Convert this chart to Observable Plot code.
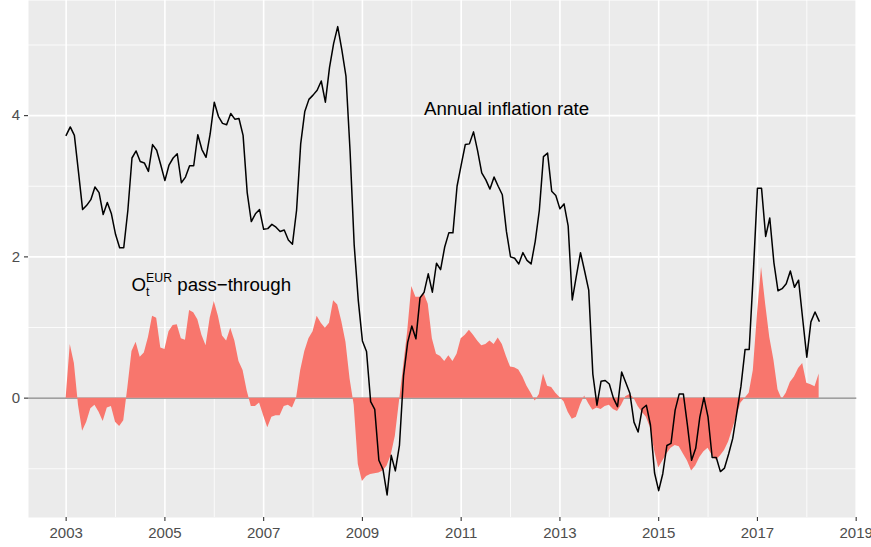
<!DOCTYPE html>
<html><head><meta charset="utf-8">
<script src="https://cdn.jsdelivr.net/npm/d3@7"></script>
<script src="https://cdn.jsdelivr.net/npm/@observablehq/plot@0.6"></script>
<style>html,body{margin:0;padding:0;background:#fff;} svg{display:block}</style>
</head><body><div id="chart"></div>
<script>
// Monthly series, January 2003 to April 2018
const startYear = 2003;
const inflation = [
  3.72, 3.84, 3.72, 3.20, 2.67, 2.73, 2.81, 2.99, 2.91, 2.60, 2.77, 2.61,
  2.32, 2.13, 2.13, 2.66, 3.40, 3.50, 3.35, 3.33, 3.21, 3.59, 3.51, 3.30,
  3.08, 3.30, 3.40, 3.46, 3.05, 3.13, 3.29, 3.29, 3.73, 3.52, 3.41, 3.74,
  4.19, 3.99, 3.89, 3.87, 4.03, 3.95, 3.96, 3.72, 2.91, 2.50, 2.61, 2.67,
  2.39, 2.40, 2.46, 2.42, 2.36, 2.38, 2.24, 2.18, 2.66, 3.60, 4.06, 4.23,
  4.29, 4.36, 4.49, 4.19, 4.68, 5.02, 5.26, 4.93, 4.56, 3.50, 2.17, 1.38,
  0.81, 0.66, -0.05, -0.16, -0.88, -1.01, -1.37, -0.81, -1.03, -0.67, 0.32, 0.79,
  1.02, 0.84, 1.42, 1.50, 1.76, 1.50, 1.91, 1.82, 2.14, 2.34, 2.34, 3.00,
  3.30, 3.59, 3.60, 3.77, 3.50, 3.19, 3.09, 2.96, 3.13, 3.00, 2.88, 2.36,
  2.00, 1.98, 1.90, 2.06, 1.95, 1.90, 2.22, 2.66, 3.42, 3.47, 2.93, 2.87,
  2.68, 2.75, 2.44, 1.39, 1.73, 2.06, 1.80, 1.53, 0.34, -0.10, 0.24, 0.25,
  0.20, 0.00, -0.12, 0.37, 0.22, 0.07, -0.34, -0.48, -0.15, -0.10, -0.38, -1.06,
  -1.31, -1.07, -0.67, -0.64, -0.17, 0.06, 0.06, -0.39, -0.88, -0.71, -0.27, 0.01,
  -0.27, -0.84, -0.84, -1.04, -0.99, -0.79, -0.57, -0.20, 0.17, 0.69, 0.69, 1.77,
  2.97, 2.97, 2.29, 2.55, 1.92, 1.52, 1.55, 1.62, 1.80, 1.57, 1.67, 1.12,
  0.58, 1.08, 1.22, 1.09
];
const passThrough = [
  0.00, 0.76, 0.49, -0.10, -0.47, -0.34, -0.15, -0.10, -0.20, -0.33, -0.14, -0.12,
  -0.34, -0.40, -0.32, 0.15, 0.66, 0.79, 0.58, 0.64, 0.86, 1.16, 1.13, 0.71,
  0.69, 0.94, 1.03, 1.04, 0.84, 0.82, 1.24, 1.21, 1.11, 0.89, 0.74, 1.13,
  1.37, 1.16, 0.88, 0.81, 0.99, 0.81, 0.52, 0.39, 0.10, -0.12, -0.12, -0.07,
  -0.25, -0.42, -0.27, -0.25, -0.25, -0.12, -0.10, -0.14, 0.00, 0.39, 0.66, 0.84,
  0.94, 1.16, 1.06, 0.99, 1.06, 1.38, 1.32, 1.08, 0.79, 0.27, -0.10, -0.94,
  -1.18, -1.11, -1.08, -1.07, -1.06, -1.03, -0.96, -0.81, -0.54, -0.05, 0.44, 0.94,
  1.58, 1.43, 1.43, 1.48, 1.33, 0.84, 0.62, 0.59, 0.52, 0.60, 0.52, 0.62,
  0.84, 0.89, 0.96, 0.89, 0.81, 0.74, 0.76, 0.81, 0.76, 0.85, 0.76, 0.59,
  0.44, 0.43, 0.40, 0.30, 0.17, 0.07, -0.04, 0.05, 0.34, 0.17, 0.15, 0.07,
  0.01, -0.05, -0.20, -0.30, -0.27, -0.10, 0.03, -0.08, -0.17, -0.14, -0.16, -0.12,
  -0.10, -0.16, -0.19, -0.10, 0.02, 0.05, 0.00, -0.12, -0.20, -0.27, -0.42, -0.74,
  -0.99, -0.89, -0.79, -0.71, -0.67, -0.69, -0.79, -0.89, -1.03, -0.96, -0.84, -0.76,
  -0.71, -0.81, -0.88, -0.82, -0.74, -0.62, -0.44, -0.25, -0.07, 0.00, 0.07, 0.39,
  1.18, 1.85, 1.33, 0.86, 0.54, 0.12, -0.02, 0.07, 0.22, 0.30, 0.42, 0.49,
  0.21, 0.19, 0.16, 0.34
];
const xMajorTicks = [2003, 2005, 2007, 2009, 2011, 2013, 2015, 2017, 2019];
const xMinorTicks = [2004, 2006, 2008, 2010, 2012, 2014, 2016, 2018];
const yMajorTicks = [0, 2, 4];
const yMinorTicks = [-1, 1, 3, 5];
const annotations = [
  {x: 2011.92, y: 4.1, label: "Annual inflation rate"},
  {x: 2006, y: 1.6, label: "OtEUR pass\u2212through"}
];

const data = inflation.map((v, i) => ({date: startYear + i / 12, infl: v, pt: passThrough[i]}));

const svg = Plot.plot({
  width: 871,
  height: 547,
  marginLeft: 28,
  marginRight: 14.7,
  marginTop: 0,
  marginBottom: 30,
  style: {fontFamily: "'Liberation Sans', Arial, Helvetica, sans-serif", background: "white"},
  x: {type: "linear", domain: [2002.2375, 2019.0125]},
  y: {type: "linear", domain: [-1.69, 5.63]},
  marks: [
    Plot.frame({fill: "#EBEBEB", stroke: "none"}),
    Plot.ruleX(xMinorTicks, {stroke: "white", strokeWidth: 0.8}),
    Plot.ruleY(yMinorTicks, {stroke: "white", strokeWidth: 0.8}),
    Plot.ruleX(xMajorTicks, {stroke: "white", strokeWidth: 1.6}),
    Plot.ruleY(yMajorTicks, {stroke: "white", strokeWidth: 1.6}),
    Plot.ruleY([0], {stroke: "#7f7f7f", strokeWidth: 1.3}),
    Plot.areaY(data, {x: "date", y: "pt", fill: "#F8766D"}),
    Plot.lineY(data, {x: "date", y: "infl", stroke: "black", strokeWidth: 1.5}),
    Plot.text(annotations, {x: "x", y: "y", text: "label", fontSize: 18.7, fill: "black", textAnchor: "middle"}),
    Plot.axisX(xMajorTicks, {anchor: "bottom", tickSize: 4, tickPadding: 6, fontSize: 15, fill: "#4d4d4d", stroke: "#333", strokeWidth: 1.1, tickFormat: d => String(d), label: null}),
    Plot.axisY(yMajorTicks, {anchor: "left", tickSize: 4, tickPadding: 4.5, fontSize: 15, fill: "#4d4d4d", stroke: "#333", strokeWidth: 1.1, tickFormat: d => String(d), label: null})
  ]
});

// Rich text (subscript / superscript) for the pass-through label
const NS = "http://www.w3.org/2000/svg";
svg.querySelectorAll("text").forEach(t => {
  if (t.textContent === "OtEUR pass\u2212through") {
    t.textContent = "";
    const parts = [
      {s: "O"},
      {s: "t", size: 12.3, dy: 4.5},
      {s: "EUR", size: 12.3, dx: -3.4, dy: -14},
      {s: " pass\u2212through", dy: 9.5}
    ];
    for (const p of parts) {
      const ts = document.createElementNS(NS, "tspan");
      ts.textContent = p.s;
      if (p.size) ts.setAttribute("font-size", p.size);
      if (p.dx) ts.setAttribute("dx", p.dx);
      if (p.dy) ts.setAttribute("dy", p.dy);
      t.appendChild(ts);
    }
    t.setAttribute("transform", (t.getAttribute("transform") || "") + " translate(-3,0)");
  }
});

document.getElementById("chart").appendChild(svg);
</script>
</body></html>
